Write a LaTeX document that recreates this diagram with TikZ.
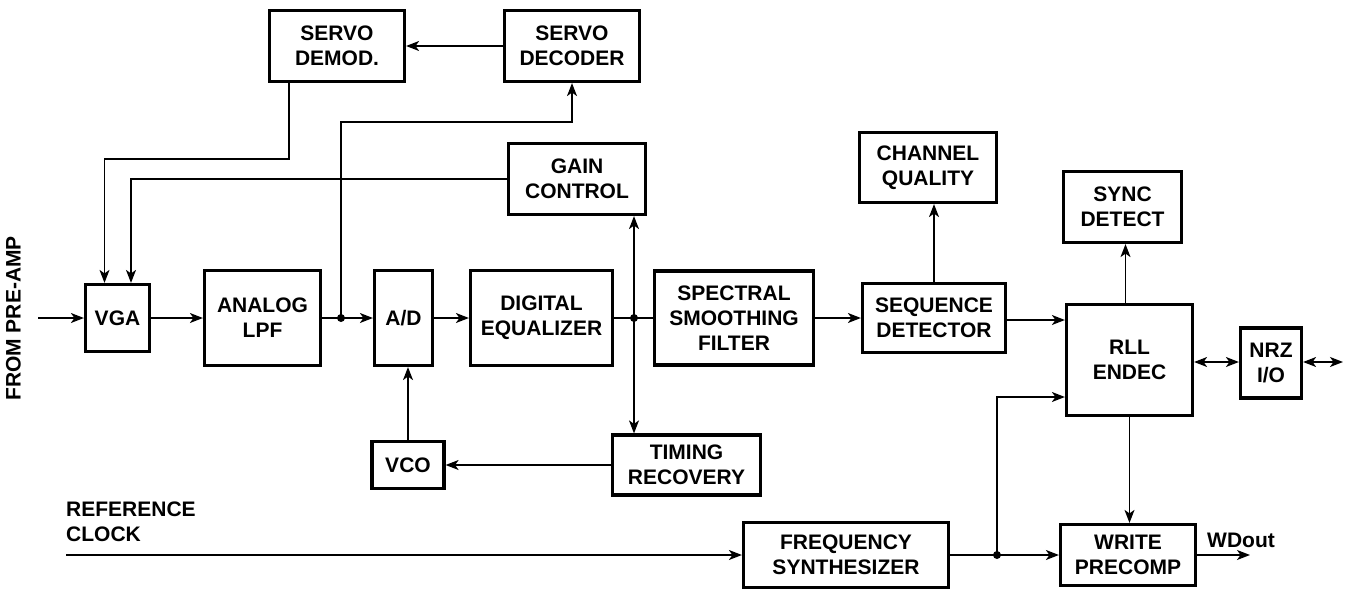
\documentclass[tikz,border=0pt]{standalone}
\usepackage{fontspec}
\setmainfont{Liberation Sans}
\usetikzlibrary{arrows.meta,calc}
\tikzset{
	blk/.style={draw, line width=3.2pt, align=center, inner sep=0pt, font=\bfseries\fontsize{21}{25}\selectfont},
	lbl/.style={align=left, inner sep=0pt, font=\bfseries\fontsize{21}{25}\selectfont},
	wire/.style={line width=1.3pt},
	arr/.style={wire, -{Stealth[length=13pt,width=10pt,inset=3.5pt]}},
	dblarr/.style={wire, {Stealth[length=13pt,width=10pt,inset=3.5pt]}-{Stealth[length=13pt,width=10pt,inset=3.5pt]}},
	dot/.style={circle, fill, inner sep=0pt, minimum size=8pt}
}

\begin{document}
\begin{tikzpicture}[x=1pt, y=-1pt]
			%%%%% START %%%%%
			\useasboundingbox (0,0) rectangle (1353,589);
			
			% main row
			\node[blk, minimum width=64, minimum height=67] (vga) at (117.5,318) {VGA};
			\node[blk, minimum width=116, minimum height=95] (lpf) at (262.5,318) {ANALOG\\LPF};
			\node[blk, minimum width=58, minimum height=95] (ad) at (403.5,318) {A/D};
			\node[blk, minimum width=142, minimum height=95] (eq) at (541.5,318) {DIGITAL\\EQUALIZER};
			\node[blk, minimum width=159, minimum height=94] (ssf) at (734,318) {SPECTRAL\\SMOOTHING\\FILTER};
			\node[blk, minimum width=143, minimum height=69] (seq) at (934,318) {SEQUENCE\\DETECTOR};
			\node[blk, minimum width=126, minimum height=111] (rll) at (1129.5,360) {RLL\\ENDEC};
			\node[blk, minimum width=61, minimum height=70] (nrz) at (1271,363) {NRZ\\I/O};
			
			% upper boxes
			\node[blk, minimum width=135, minimum height=71] (sdemod) at (337,46) {SERVO\\DEMOD.};
			\node[blk, minimum width=135, minimum height=71] (sdec) at (572,46) {SERVO\\DECODER};
			\node[blk, minimum width=137, minimum height=71] (gain) at (577,179) {GAIN\\CONTROL};
			\node[blk, minimum width=137, minimum height=70] (chq) at (928,167.5) {CHANNEL\\QUALITY};
			\node[blk, minimum width=118, minimum height=71] (sync) at (1122.5,207) {SYNC\\DETECT};
			
			% lower boxes
			\node[blk, minimum width=72, minimum height=47] (vco) at (408,465) {VCO};
			\node[blk, minimum width=148, minimum height=60] (tim) at (686.5,465) {TIMING\\RECOVERY};
			\node[blk, minimum width=205, minimum height=65] (freq) at (846,555) {FREQUENCY\\SYNTHESIZER};
			\node[blk, minimum width=135, minimum height=61] (wpc) at (1128,555) {WRITE\\PRECOMP};
			
			% texts
			\node[lbl, rotate=90] (pre) at (13.5,318.5) {FROM PRE-AMP};
			\node[lbl, anchor=north west] (ref) at (66,502) {REFERENCE\\CLOCK};
			\node[lbl, anchor=base] (wdout) at (1241,547) {WDout};
			
			% taps
			\coordinate (tap1) at (341,318);
			\coordinate (tap2) at (634,318);
			\coordinate (tap3) at (997,555);
			\coordinate (in) at (38,318);
			\coordinate (clk) at (66,555);
			\coordinate (io) at (1343,362);
			\coordinate (wd) at (1250,555);
			\coordinate (k1) at (104.5,159);
			\coordinate (k2) at (572,122);
			\coordinate (k3) at (997,397);
			
			\draw[arr] (in) -- (vga);
			\draw[arr] (vga) -- (lpf);
			\draw[arr] (lpf) -- (ad);
			\draw[arr] (ad) -- (eq);
			\draw[wire] (eq) -- (ssf);
			\draw[arr] (ssf) -- (seq);
			\draw[arr] ($(seq.east)+(0,2)$) -- ($(seq.east -| rll.west)+(0,2)$);
			
			\draw[arr] (tap1) |- (k2) -- (sdec.south);
			\draw[arr] (sdec) -- (sdemod);
			\draw[arr] ($(sdemod.south)+(-48,0)$) |- (k1) -- (k1 |- vga.north);
			\draw[arr] (gain.west) -| ($(vga.north)+(13.5,0)$);
			
			\draw[arr] (tap2) -- (tap2 |- gain.south);
			\draw[arr] (tap2) -- (tap2 |- tim.north);
			\draw[arr] (tim) -- (vco);
			\draw[arr] (vco.north) -- (vco.north |- ad.south);
			
			\draw[arr] (seq.north) -- (seq.north |- chq.south);
			\draw[arr] ($(rll.north)+(-4,0)$) -- ($(rll.north |- sync.south)+(-4,0)$);
			\draw[dblarr] (nrz.west |- io) -- (rll.east |- io);
			\draw[dblarr] (nrz.east |- io) -- (io);
			\draw[arr] (rll.south) -- (rll.south |- wpc.north);
			
			\draw[arr] (clk) -- (freq);
			\draw[arr] (freq) -- (wpc);
			\draw[arr] (tap3) -- (k3) -- (k3 -| rll.west);
			\draw[arr] (wpc) -- (wd);
			
			\node[dot] at (tap1) {};
			\node[dot] at (tap2) {};
			\node[dot] at (tap3) {};
			
			%%%%% END %%%%%
\end{tikzpicture}
\end{document}
